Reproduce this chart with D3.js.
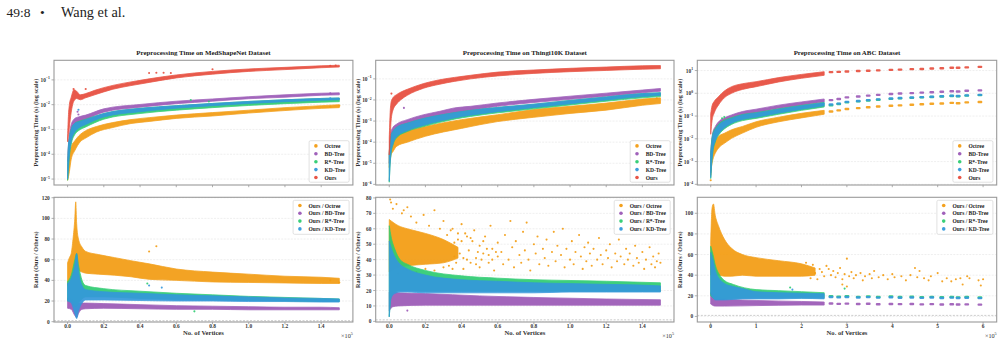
<!DOCTYPE html>
<html><head><meta charset="utf-8">
<script src="https://cdn.jsdelivr.net/npm/d3@7"></script>
<style>body{margin:0;background:#fff}svg{display:block}</style>
</head><body><svg id="c" width="1003" height="343"></svg>
<script>
// ---------------- DATA (x in units of 1e5 vertices) ----------------
const seriesNames = ["Octree","BD-Tree","R*-Tree","KD-Tree","Ours"];
const ratioNames = ["Ours / Octree","Ours / BD-Tree","Ours / R*-Tree","Ours / KD-Tree"];
const titles = ["Preprocessing Time on MedShapeNet Dataset","Preprocessing Time on Thingi10K Dataset","Preprocessing Time on ABC Dataset"];
const xTicksSmall = [0,0.2,0.4,0.6,0.8,1.0,1.2,1.4];
const xTickLabelsSmall = ["0.0","0.2","0.4","0.6","0.8","1.0","1.2","1.4"];
const xTicksABC = [0,1,2,3,4,5,6];
const xTickLabelsABC = ["0","1","2","3","4","5","6"];
const medTimeTicks = [1e-5,1e-4,1e-3,1e-2,1e-1];
const thingiTimeTicks = [1e-6,1e-5,1e-4,1e-3,1e-2,1e-1];
const abcTimeTicks = [1e-4,1e-3,1e-2,1e-1,1,10];
const medRatioTicks = [0,20,40,60,80,100,120];
const thingiRatioTicks = [0,10,20,30,40,50,60,70,80];
const abcRatioTicks = [0,20,40,60,80,100];

// bands: [x, low, high]  (time in seconds)
const medTimeOctree = [[0,8.9e-6,1.26e-5],[0.005,1.26e-5,5.0e-5],[0.01,2.0e-5,1.0e-4],[0.02,6.3e-5,2.0e-4],[0.04,1.41e-4,3.5e-4],[0.07,3.2e-4,6.3e-4],[0.1,4.5e-4,8.9e-4],[0.16,7.9e-4,1.32e-3],[0.25,1.2e-3,1.9e-3],[0.35,1.74e-3,2.5e-3],[0.45,2.1e-3,3.0e-3],[0.6,2.8e-3,3.8e-3],[0.8,3.5e-3,4.8e-3],[1.0,4.6e-3,6.0e-3],[1.2,5.8e-3,7.6e-3],[1.4,7.1e-3,9.1e-3],[1.5,7.6e-3,1.0e-2]];
const medTimeBD = [[0.002,5.0e-5,1.26e-4],[0.01,2.5e-4,6.3e-4],[0.02,6.3e-4,1.58e-3],[0.04,1.41e-3,2.8e-3],[0.06,1.78e-3,3.2e-3],[0.1,2.5e-3,3.8e-3],[0.2,5.0e-3,6.8e-3],[0.4,7.9e-3,1.02e-2],[0.6,1.1e-2,1.38e-2],[0.8,1.38e-2,1.7e-2],[1.0,1.74e-2,2.1e-2],[1.2,2.0e-2,2.5e-2],[1.4,2.4e-2,2.9e-2],[1.5,2.5e-2,3.0e-2]];
const medTimeRStar = [[0,8.9e-6,3.2e-5],[0.005,2.5e-5,2.0e-4],[0.01,7.9e-5,4.5e-4],[0.02,2.5e-4,1.0e-3],[0.04,6.3e-4,1.78e-3],[0.06,8.9e-4,2.1e-3],[0.1,1.26e-3,2.6e-3],[0.2,2.6e-3,4.4e-3],[0.4,4.4e-3,7.1e-3],[0.6,6.0e-3,9.1e-3],[0.8,7.6e-3,1.12e-2],[1.0,9.3e-3,1.35e-2],[1.2,1.1e-2,1.58e-2],[1.4,1.26e-2,1.78e-2],[1.5,1.32e-2,1.86e-2]];
const medTimeKD = [[0,1.0e-5,4.0e-5],[0.005,3.2e-5,2.5e-4],[0.01,1.0e-4,5.0e-4],[0.02,3.2e-4,1.0e-3],[0.04,7.9e-4,1.78e-3],[0.06,1.12e-3,2.0e-3],[0.1,1.58e-3,2.5e-3],[0.2,3.2e-3,4.4e-3],[0.4,5.2e-3,7.1e-3],[0.6,7.2e-3,9.1e-3],[0.8,9.1e-3,1.12e-2],[1.0,1.12e-2,1.35e-2],[1.2,1.32e-2,1.58e-2],[1.4,1.51e-2,1.78e-2],[1.5,1.58e-2,1.86e-2]];
const medTimeOurs = [[0,3.2e-4,5.0e-4],[0.005,6.3e-4,4.0e-3],[0.01,1.26e-3,1.0e-2],[0.02,5.0e-3,2.0e-2],[0.035,1.41e-2,4.0e-2],[0.05,1.78e-2,3.5e-2],[0.07,1.58e-2,2.5e-2],[0.1,1.9e-2,2.8e-2],[0.15,2.5e-2,3.8e-2],[0.25,4.2e-2,6.0e-2],[0.35,5.9e-2,8.3e-2],[0.45,7.9e-2,0.11],[0.6,0.12,0.158],[0.8,0.17,0.22],[1.0,0.22,0.275],[1.2,0.26,0.32],[1.4,0.31,0.37],[1.5,0.33,0.39]];
// extra points: [seriesIndex, x, y]
const medTimeExtra = [[4,0.033,0.043],[4,0.1,0.043],[4,0.45,0.19],[4,0.49,0.195],[4,0.53,0.195],[4,0.57,0.19],[4,0.8,0.27],[4,1.45,0.37],[4,1.48,0.38],[1,0.055,0.0052],[1,0.06,0.004],[3,0.06,0.0062],[2,0.68,0.0155],[2,0.78,0.0135],[1,1.45,0.029],[3,1.45,0.018],[0,1.45,0.0085],[0,1.5,0.009]];

const thingiTimeOctree = [[0,6.3e-6,4.0e-5],[0.01,2.5e-5,1.12e-4],[0.02,3.5e-5,1.58e-4],[0.04,6.3e-5,2.2e-4],[0.1,1.0e-4,3.5e-4],[0.2,1.9e-4,5.6e-4],[0.4,4.5e-4,1.17e-3],[0.6,9.5e-4,2.0e-3],[0.8,1.51e-3,3.5e-3],[1.0,2.3e-3,5.0e-3],[1.2,3.3e-3,7.1e-3],[1.4,5.6e-3,1.1e-2],[1.5,6.8e-3,1.26e-2]];
const thingiTimeBD = [[0,1.0e-5,3.2e-5],[0.005,3.2e-5,1.58e-4],[0.01,7.9e-5,3.2e-4],[0.02,1.58e-4,5.0e-4],[0.04,3.2e-4,7.1e-4],[0.1,5.6e-4,1.17e-3],[0.19,1.05e-3,2.0e-3],[0.28,1.66e-3,2.9e-3],[0.36,2.4e-3,4.2e-3],[0.45,3.2e-3,5.0e-3],[0.6,5.0e-3,7.2e-3],[0.8,7.6e-3,1.07e-2],[1.0,1.07e-2,1.51e-2],[1.2,1.51e-2,2.1e-2],[1.4,2.2e-2,2.95e-2],[1.5,2.6e-2,3.5e-2]];
const thingiTimeRStar = [[0,1.26e-6,2.5e-5],[0.005,8.9e-6,1.0e-4],[0.01,2.8e-5,2.0e-4],[0.02,7.1e-5,3.2e-4],[0.04,1.58e-4,5.0e-4],[0.1,3.2e-4,7.9e-4],[0.19,5.5e-4,1.32e-3],[0.28,8.7e-4,1.9e-3],[0.36,1.23e-3,2.5e-3],[0.45,1.66e-3,3.2e-3],[0.6,2.45e-3,4.4e-3],[0.8,3.8e-3,6.3e-3],[1.0,5.8e-3,9.5e-3],[1.2,8.7e-3,1.38e-2],[1.4,1.26e-2,2.0e-2],[1.5,1.45e-2,2.2e-2]];
const thingiTimeKD = [[0,1.41e-6,2.5e-5],[0.005,1.0e-5,1.0e-4],[0.01,3.2e-5,2.0e-4],[0.02,7.9e-5,3.2e-4],[0.04,1.78e-4,5.0e-4],[0.1,3.5e-4,7.9e-4],[0.19,6.3e-4,1.32e-3],[0.28,1.0e-3,1.9e-3],[0.36,1.41e-3,2.5e-3],[0.45,1.9e-3,3.2e-3],[0.6,2.8e-3,4.4e-3],[0.8,4.4e-3,6.3e-3],[1.0,6.6e-3,9.5e-3],[1.2,1.0e-2,1.38e-2],[1.4,1.45e-2,2.0e-2],[1.5,1.66e-2,2.2e-2]];
const thingiTimeOurs = [[0,2.5e-5,1.58e-4],[0.005,1.58e-4,2.5e-3],[0.01,1.0e-3,7.9e-3],[0.02,3.2e-3,1.26e-2],[0.04,6.3e-3,1.78e-2],[0.07,1.12e-2,2.5e-2],[0.1,1.66e-2,3.2e-2],[0.19,3.6e-2,6.0e-2],[0.28,5.6e-2,9.1e-2],[0.36,7.6e-2,0.117],[0.45,0.1,0.148],[0.6,0.138,0.209],[0.8,0.182,0.263],[1.0,0.219,0.316],[1.2,0.251,0.363],[1.4,0.288,0.417],[1.5,0.302,0.427]];
const thingiTimeExtra = [[1,0.081,0.0042],[4,0.012,0.02],[0,1.48,0.012]];

const abcTimeOctree = [[0,2.5e-4,1.26e-3],[0.02,6.3e-4,2.5e-3],[0.05,1.26e-3,5.0e-3],[0.1,2.3e-3,8.7e-3],[0.2,4.5e-3,1.41e-2],[0.3,6.3e-3,1.74e-2],[0.46,1.05e-2,2.5e-2],[0.7,1.78e-2,3.5e-2],[1.0,3.2e-2,5.6e-2],[1.5,5.6e-2,8.9e-2],[2.0,8.3e-2,0.132],[2.5,0.12,0.178]];
const abcTimeBD = [[0,3.2e-4,2.5e-3],[0.02,1.26e-3,7.9e-3],[0.05,5.0e-3,2.0e-2],[0.1,1.26e-2,3.4e-2],[0.2,3.2e-2,6.3e-2],[0.3,4.8e-2,8.3e-2],[0.46,7.1e-2,0.112],[0.7,0.105,0.158],[1.0,0.138,0.2],[1.5,0.214,0.302],[2.0,0.302,0.417],[2.5,0.417,0.562]];
const abcTimeRStar = [[0,1.78e-4,2.2e-3],[0.02,7.1e-4,7.1e-3],[0.05,2.8e-3,1.78e-2],[0.1,7.1e-3,2.8e-2],[0.2,1.7e-2,5.0e-2],[0.3,2.7e-2,6.6e-2],[0.46,4.3e-2,8.5e-2],[0.7,6.3e-2,0.117],[1.0,7.9e-2,0.141],[1.5,0.12,0.209],[2.0,0.178,0.295],[2.5,0.251,0.398]];
const abcTimeKD = [[0,2.0e-4,2.0e-3],[0.02,7.9e-4,6.3e-3],[0.05,3.2e-3,1.58e-2],[0.1,7.9e-3,2.5e-2],[0.2,1.9e-2,4.5e-2],[0.3,3.0e-2,6.0e-2],[0.46,4.8e-2,7.9e-2],[0.7,7.1e-2,0.112],[1.0,8.9e-2,0.135],[1.5,0.135,0.2],[2.0,0.2,0.282],[2.5,0.282,0.38]];
const abcTimeOurs = [[0,1.58e-2,0.126],[0.03,6.3e-2,0.282],[0.08,0.141,0.447],[0.17,0.302,0.708],[0.3,0.631,1.26],[0.46,1.0,1.95],[0.7,1.48,2.63],[1.0,1.95,3.24],[1.5,3.16,4.9],[2.0,4.57,6.76],[2.5,6.17,8.91]];
// sparse tail of the ABC dataset: cluster positions and values per series
const abcTailX = [2.65,2.82,3.0,3.25,3.47,3.69,3.97,4.17,4.43,4.65,4.87,5.09,5.31,5.45,5.64,5.93];
const abcTimeTailOctree = [0.158,0.178,0.204,0.224,0.245,0.263,0.282,0.295,0.316,0.331,0.347,0.355,0.38,0.363,0.398,0.417];
const abcTimeTailBD = [0.5,0.56,0.66,0.72,0.79,0.85,0.93,0.98,1.02,1.07,1.12,1.17,1.23,1.2,1.29,1.35];
const abcTimeTailRStar = [0.3,0.34,0.4,0.44,0.48,0.52,0.57,0.6,0.63,0.66,0.69,0.72,0.76,0.74,0.79,0.83];
const abcTimeTailKD = [0.32,0.35,0.42,0.46,0.5,0.54,0.59,0.62,0.65,0.68,0.71,0.74,0.78,0.76,0.81,0.85];
const abcTimeTailOurs = [8.5,8.7,9.1,9.5,9.8,10.2,10.7,11,11.5,11.7,12.3,12.6,13.2,13.2,13.8,14.5];
const abcTimeExtra = [[2,0.3,0.09],[2,0.25,0.08],[0,0.0,1.5e-4]];

// ratio bands: [x, low, high]
const medRatioOctree = [[0,35,57],[0.01,40,62],[0.02,42,66],[0.03,45,80],[0.04,50,100],[0.045,55,116],[0.05,55,95],[0.06,50,80],[0.08,48,72],[0.1,47,68],[0.17,46,65],[0.26,45,62],[0.35,43.5,59],[0.45,41,56],[0.6,40,51],[0.8,38.5,48],[1.0,38,46],[1.2,37.5,44],[1.4,37,43],[1.5,37,42]];
const medRatioBD = [[0,13,23],[0.02,12,22],[0.04,6,20],[0.05,4,19],[0.06,8,18],[0.08,12,18],[0.1,12.5,18],[0.2,13,17.5],[0.4,12.5,16.5],[0.6,12,15.5],[0.8,12,15],[1.0,11.5,14.5],[1.2,11.5,14],[1.4,11.5,14],[1.5,11.5,13.5]];
const medRatioRStar = [[0,20,39],[0.02,20,45],[0.04,15,60],[0.05,15,66],[0.06,18,55],[0.08,22,40],[0.1,24,35],[0.2,24,32],[0.4,22.5,29.5],[0.6,21.5,27.5],[0.8,21,26],[1.0,20.5,24.5],[1.2,20,23.5],[1.4,19.5,22.5],[1.5,19.5,22]];
const medRatioKD = [[0,20,37],[0.02,18,42],[0.04,8,55],[0.05,3,66],[0.06,10,50],[0.08,18,35],[0.1,21,31],[0.2,21,29],[0.4,20.5,27.5],[0.6,20,26],[0.8,20,25],[1.0,19.5,24],[1.2,19.5,23],[1.4,19,22.5],[1.5,19,22]];
const medRatioExtra = [[0,0.45,68],[0,0.49,73],[3,0.45,35],[3,0.52,33],[2,0.44,37],[2,0.7,10],[0,1.45,40],[0,1.5,38]];

const thingiRatioOctree = [[0,32,66],[0.05,35,62],[0.1,36,60],[0.2,37,57],[0.3,38,53],[0.38,41,48]];
const thingiRatioBD = [[0,7,19],[0.02,9.5,19],[0.05,10,18.5],[0.2,10.5,18],[0.5,10.5,16.5],[0.8,10.5,15.5],[1.0,10.5,15],[1.2,10.5,14.5],[1.5,10.5,14]];
const thingiRatioRStar = [[0,3,62],[0.01,16,55],[0.03,19,47],[0.06,20,40],[0.1,20,37],[0.2,19.5,33],[0.4,19.5,29.5],[0.6,19.5,28],[0.8,19.5,27],[1.0,19.5,26.5],[1.2,19.5,26],[1.5,19.5,25]];
const thingiRatioKD = [[0,3,52],[0.01,15,48],[0.03,18,42],[0.06,19,37],[0.1,19,34],[0.2,18.5,30],[0.4,18.5,27],[0.6,18.5,26],[0.8,18.5,25],[1.0,19,24.5],[1.2,19,24],[1.4,19,23.5],[1.5,19,23]];
const thingiRatioExtra = [[1,0.1,7],
 [0,0.005,79],[0,0.01,77],[0,0.02,73],[0,0.04,76],[0,0.07,70],[0,0.08,72],[0,0.1,74],[0,0.12,68],[0,0.15,64],[0,0.19,69],[0,0.22,62],[0,0.25,72],[0,0.28,60],[0,0.3,65],
 [0,0.05,31],[0,0.1,33],[0,0.15,32],[0,0.2,34],[0,0.25,33],[0,0.3,35],[0,0.35,34],[0,0.38,57],[0,0.43,55],[0,0.34,59],[0,0.36,51],[0,0.37,38],[0,0.39,44],[0,0.4,52],[0,0.41,41],
 [0,0.32,56],[0,0.33,36],[0,0.35,60],[0,0.36,42],[0,0.38,53],[0,0.4,63],[0,0.41,34],[0,0.42,57],[0,0.44,46],[0,0.45,38],[0,0.46,52],[0,0.47,59],[0,0.48,41],[0,0.5,35],[0,0.5,49],[0,0.52,44],[0,0.53,55],[0,0.55,38],[0,0.56,62],[0,0.57,47],[0,0.58,33],[0,0.6,51],[0,0.6,42],
 [0,0.43,40],[0,0.45,54],[0,0.48,37],[0,0.49,45],[0,0.51,40],[0,0.52,52],[0,0.54,47],[0,0.55,43],[0,0.57,40],[0,0.59,45],
 [0,0.62,45],[0,0.63,37],[0,0.64,56],[0,0.66,40],[0,0.67,65],[0,0.68,48],[0,0.69,35],[0,0.7,52],[0,0.72,43],[0,0.73,38],[0,0.74,58],[0,0.75,46],[0,0.76,64],[0,0.77,40],[0,0.78,33],[0,0.8,50],[0,0.81,44],[0,0.82,55],[0,0.83,37],[0,0.85,47],[0,0.86,41],[0,0.87,53],[0,0.88,36],[0,0.9,45],[0,0.91,58],[0,0.92,39],[0,0.93,49],[0,0.95,43],[0,0.96,60],[0,0.97,35],[0,0.98,47],[0,1.0,40],
 [0,1.01,52],[0,1.02,37],[0,1.03,45],[0,1.05,56],[0,1.06,42],[0,1.07,34],[0,1.08,48],[0,1.09,39],[0,1.1,51],[0,1.11,44],[0,1.12,36],[0,1.13,47],[0,1.15,40],[0,1.16,54],[0,1.17,43],[0,1.18,37],[0,1.2,46],[0,1.21,41],[0,1.22,50],[0,1.23,35],[0,1.25,44],[0,1.26,39],[0,1.27,53],[0,1.28,42],[0,1.3,37],[0,1.31,47],[0,1.32,40],[0,1.33,44],[0,1.35,36],[0,1.36,49],[0,1.37,41],[0,1.38,38],[0,1.4,45],[0,1.41,34],[0,1.42,40],[0,1.44,48],[0,1.45,37],[0,1.46,42],[0,1.47,35],[0,1.48,39],[0,1.49,44],[0,1.5,38]];

const abcRatioOctree = [[0,40,70],[0.03,42,105],[0.06,40,109],[0.1,40,98],[0.17,40,88],[0.3,39,75],[0.46,39,66],[0.7,40,60],[1.0,39,57],[1.5,39,54],[2.0,39,51],[2.3,40,47]];
const abcRatioBD = [[0,12,23],[0.1,10,20],[0.3,10,17],[1.0,10.5,15.5],[2.0,11,14.5],[2.5,11,14]];
const abcRatioRStar = [[0,20,68],[0.05,18,60],[0.1,17,50],[0.2,17,40],[0.3,17,35],[0.5,17.5,31],[1.0,18,26],[1.5,18,25],[2.0,18,24],[2.5,18,23]];
const abcRatioKD = [[0,22,62],[0.05,18,55],[0.1,16,45],[0.2,16,36],[0.3,16,32],[0.5,16.5,29],[0.7,17,27],[1.0,17,24],[1.5,17,23],[2.0,17.5,22.5],[2.5,17,22]];
const abcRatioTailBD = [12.5,12.2,12.4,12,12.3,11.8,12.1,11.9,12,11.7,11.9,11.6,11.8,11.5,11.7,11.4];
const abcRatioTailRStar = [19.5,19.2,19.6,19,19.4,18.9,19.3,18.8,19.1,18.7,19,18.6,18.9,18.5,18.8,18.4];
const abcRatioTailKD = [18.8,18.5,18.9,18.3,18.7,18.2,18.6,18.1,18.4,18,18.3,17.9,18.2,17.8,18.1,17.7];
const abcRatioExtra = [[2,1.75,28],[2,2.95,27],[3,1.8,26],
 [0,2.1,52],[0,2.2,37],[0,2.25,50],[0,2.35,36],[0,2.4,46],[0,2.45,43],[0,2.5,39],[0,2.55,49],[0,2.3,42],
 [0,2.6,46],[0,2.65,40],[0,2.7,44],[0,2.75,38],[0,2.8,42],[0,2.85,47],[0,2.9,36],[0,2.9,31],[0,2.95,41],[0,3.0,56],[0,3.0,29],[0,3.05,39],[0,3.1,43],[0,3.15,37],[0,3.2,40],[0,3.3,42],[0,3.35,35],[0,3.4,39],[0,3.5,41],[0,3.55,37],[0,3.6,44],[0,3.7,38],[0,3.8,40],[0,3.9,36],[0,4.0,41],[0,4.05,38],[0,4.2,39],[0,4.3,35],[0,4.4,40],[0,4.5,47],[0,4.55,38],[0,4.6,44],[0,4.7,37],[0,4.8,35],[0,4.85,39],[0,5.0,42],[0,5.1,34],[0,5.2,37],[0,5.3,34],[0,5.4,36],[0,5.5,37],[0,5.55,31],[0,5.65,39],[0,5.7,37],[0,5.9,35],[0,5.95,30],[0,6.0,36]];

// ---------------- STYLE / LAYOUT ----------------
const colors = ["#f39c12","#9b59b6","#2ecc71","#3498db","#e74c3c"];
const FONT = "'Liberation Serif','Times New Roman',serif";
const frameX = [[54,352.9],[375.7,674],[697.3,996.7]];
const topY = [60.3,185], botY = [197.3,322];

const svg = d3.select("#c");
svg.append("text").attr("x",6.5).attr("y",17).attr("font-family",FONT).attr("font-size",13.5).attr("fill","#222").text("49:8");
svg.append("text").attr("x",40).attr("y",17).attr("font-family",FONT).attr("font-size",13.5).attr("fill","#222").text("•");
svg.append("text").attr("x",61).attr("y",17).attr("font-family",FONT).attr("font-size",14.3).attr("fill","#222").text("Wang et al.");

let clipId = 0;
function panel(o){
  const [x0,x1] = o.fx, [y0,y1] = o.fy;
  const x = d3.scaleLinear().domain(o.xd).range([x0,x1]);
  const y = (o.log ? d3.scaleLog() : d3.scaleLinear()).domain(o.yd).range([y1,y0]);
  const g = svg.append("g");
  const cid = "clip"+(clipId++);
  svg.append("clipPath").attr("id",cid).append("rect").attr("x",x0).attr("y",y0).attr("width",x1-x0).attr("height",y1-y0);
  g.selectAll(".grid").data(o.yt).join("line").attr("x1",x0).attr("x2",x1)
    .attr("y1",d=>y(d)).attr("y2",d=>y(d)).attr("stroke","#e4e4e4").attr("stroke-width",0.6).attr("stroke-dasharray","2,1.2");
  if(!o.log){
    g.append("line").attr("x1",x0).attr("x2",x1).attr("y1",y(1)).attr("y2",y(1))
      .attr("stroke","#aaa").attr("stroke-width",0.6).attr("stroke-dasharray","2,1.5").attr("clip-path",`url(#${cid})`);
  }
  const plot = g.append("g").attr("clip-path",`url(#${cid})`);
  const area = d3.area().x(d=>x(d[0])).y0(d=>y(d[1])).y1(d=>y(d[2])).curve(d3.curveMonotoneX);
  o.bands.forEach((b,i)=>{
    const c = colors[i];
    plot.append("path").datum(b).attr("d",area).attr("fill",c).attr("stroke",c).attr("stroke-width",0.8).attr("stroke-linejoin","round").attr("opacity",0.92);
    if(o.tails && o.tails[i]){
      plot.selectAll(null).data(o.tails[i]).join("rect")
        .attr("x",(d,k)=>x(o.tailX[k])-2.4).attr("y",d=>y(d)-1.2).attr("width",4.8).attr("height",2.4).attr("rx",1)
        .attr("fill",c).attr("opacity",0.9);
    }
    plot.selectAll(null).data(o.extra.filter(d=>d[0]===i)).join("circle")
      .attr("cx",d=>x(d[1])).attr("cy",d=>y(d[2])).attr("r",1.05).attr("fill",c).attr("opacity",0.9);
  });
  g.append("rect").attr("x",x0).attr("y",y0).attr("width",x1-x0).attr("height",y1-y0)
    .attr("fill","none").attr("stroke","#9a9a9a").attr("stroke-width",1.1);
  g.selectAll(".xt").data(o.xt).join("line").attr("x1",d=>x(d)).attr("x2",d=>x(d)).attr("y1",y1).attr("y2",y1+2.2).attr("stroke","#9a9a9a").attr("stroke-width",0.8);
  if(o.xl){
    g.selectAll(".xl").data(o.xt).join("text").attr("x",d=>x(d)).attr("y",y1+6.4).attr("text-anchor","middle")
      .attr("font-family",FONT).attr("font-weight","bold").attr("font-size",5.4).attr("fill","#333").text((d,k)=>o.xl[k]);
    g.append("text").attr("x",(x0+x1)/2).attr("y",y1+13.4).attr("text-anchor","middle").attr("font-family",FONT)
      .attr("font-weight","bold").attr("font-size",6.6).attr("fill","#333").text("No. of Vertices");
    const m = g.append("text").attr("x",x1).attr("y",y1+15.6).attr("text-anchor","end").attr("font-family",FONT)
      .attr("font-size",6.2).attr("fill","#333");
    m.append("tspan").text("×10");
    m.append("tspan").attr("font-size",4.2).attr("dy",-2.6).text("5");
  }
  g.selectAll(".yt").data(o.yt).join("line").attr("x1",x0-2.5).attr("x2",x0).attr("y1",d=>y(d)).attr("y2",d=>y(d)).attr("stroke","#9a9a9a").attr("stroke-width",0.8);
  const yl = g.selectAll(".yl").data(o.yt).join("text").attr("x",x0-4.2).attr("y",d=>y(d)+2).attr("text-anchor","end")
    .attr("font-family",FONT).attr("font-weight","bold").attr("font-size",5.4).attr("fill","#333");
  if(o.log){
    yl.each(function(d){
      const e = Math.round(Math.log10(d));
      const t = d3.select(this);
      t.append("tspan").text("10");
      t.append("tspan").attr("font-size",3.7).attr("dy",-2.4).text(e<0 ? "−"+(-e) : String(e));
    });
  } else yl.text(d=>d);
  g.append("text").attr("transform",`translate(${x0-15.6},${(y0+y1)/2}) rotate(-90)`).attr("text-anchor","middle")
    .attr("font-family",FONT).attr("font-weight","bold").attr("font-size",6.2).attr("fill","#333").text(o.ytitle);
  if(o.title){
    g.append("text").attr("x",(x0+x1)/2).attr("y",y0-5).attr("text-anchor","middle").attr("font-family",FONT)
      .attr("font-weight","bold").attr("font-size",6.9).attr("fill","#222").text(o.title);
  }
  const L = o.legend;
  const lg = g.append("g");
  const lx = x1-3.8-L.w, ly = L.top ? y0+3 : y1-2.8-L.h;
  lg.append("rect").attr("x",lx).attr("y",ly).attr("width",L.w).attr("height",L.h).attr("rx",1.5)
    .attr("fill","#fff").attr("stroke","#d4d4d4").attr("stroke-width",0.7);
  L.names.forEach((n,i)=>{
    const yy = ly+5.2+i*L.step;
    lg.append("circle").attr("cx",lx+6.8).attr("cy",yy).attr("r",1.8).attr("fill",colors[i]).attr("opacity",0.95);
    lg.append("text").attr("x",lx+15.5).attr("y",yy+2).attr("font-family",FONT).attr("font-weight","bold")
      .attr("font-size",5.5).attr("fill","#222").text(n);
  });
}

const topLegend = {names:seriesNames,w:40,h:41.5,step:7.9,top:false};
const botLegend = {names:ratioNames,w:56,h:34,step:7.8,top:true};
const smallX = [-0.075,1.575], abcX = [-0.295,6.3];

panel({fx:frameX[0],fy:topY,xd:smallX,log:true,yd:[Math.pow(10,-5.24),Math.pow(10,-0.21)],yt:medTimeTicks,xt:xTicksSmall,
  bands:[medTimeOctree,medTimeBD,medTimeRStar,medTimeKD,medTimeOurs],extra:medTimeExtra,
  ytitle:"Preprocessing Time (s) (log scale)",title:titles[0],legend:topLegend});
panel({fx:frameX[1],fy:topY,xd:smallX,log:true,yd:[Math.pow(10,-6.03),Math.pow(10,-0.12)],yt:thingiTimeTicks,xt:xTicksSmall,
  bands:[thingiTimeOctree,thingiTimeBD,thingiTimeRStar,thingiTimeKD,thingiTimeOurs],extra:thingiTimeExtra,
  ytitle:"Preprocessing Time (s) (log scale)",title:titles[1],legend:topLegend});
panel({fx:frameX[2],fy:topY,xd:abcX,log:true,yd:[Math.pow(10,-4.03),Math.pow(10,1.45)],yt:abcTimeTicks,xt:xTicksABC,
  bands:[abcTimeOctree,abcTimeBD,abcTimeRStar,abcTimeKD,abcTimeOurs],extra:abcTimeExtra,
  tailX:abcTailX,tails:[abcTimeTailOctree,abcTimeTailBD,abcTimeTailRStar,abcTimeTailKD,abcTimeTailOurs],
  ytitle:"Preprocessing Time (s) (log scale)",title:titles[2],legend:topLegend});

panel({fx:frameX[0],fy:botY,xd:smallX,log:false,yd:[-0.3,120.4],yt:medRatioTicks,xt:xTicksSmall,xl:xTickLabelsSmall,
  bands:[medRatioOctree,medRatioBD,medRatioRStar,medRatioKD],extra:medRatioExtra,
  ytitle:"Ratio (Ours / Others)",legend:botLegend});
panel({fx:frameX[1],fy:botY,xd:smallX,log:false,yd:[-0.4,80.4],yt:thingiRatioTicks,xt:xTicksSmall,xl:xTickLabelsSmall,
  bands:[thingiRatioOctree,thingiRatioBD,thingiRatioRStar,thingiRatioKD],extra:thingiRatioExtra,
  ytitle:"Ratio (Ours / Others)",legend:botLegend});
panel({fx:frameX[2],fy:botY,xd:abcX,log:false,yd:[-5.4,115.5],yt:abcRatioTicks,xt:xTicksABC,xl:xTickLabelsABC,
  bands:[abcRatioOctree,abcRatioBD,abcRatioRStar,abcRatioKD],extra:abcRatioExtra,
  tailX:abcTailX,tails:[null,abcRatioTailBD,abcRatioTailRStar,abcRatioTailKD],
  ytitle:"Ratio (Ours / Others)",legend:botLegend});
</script></body></html>
